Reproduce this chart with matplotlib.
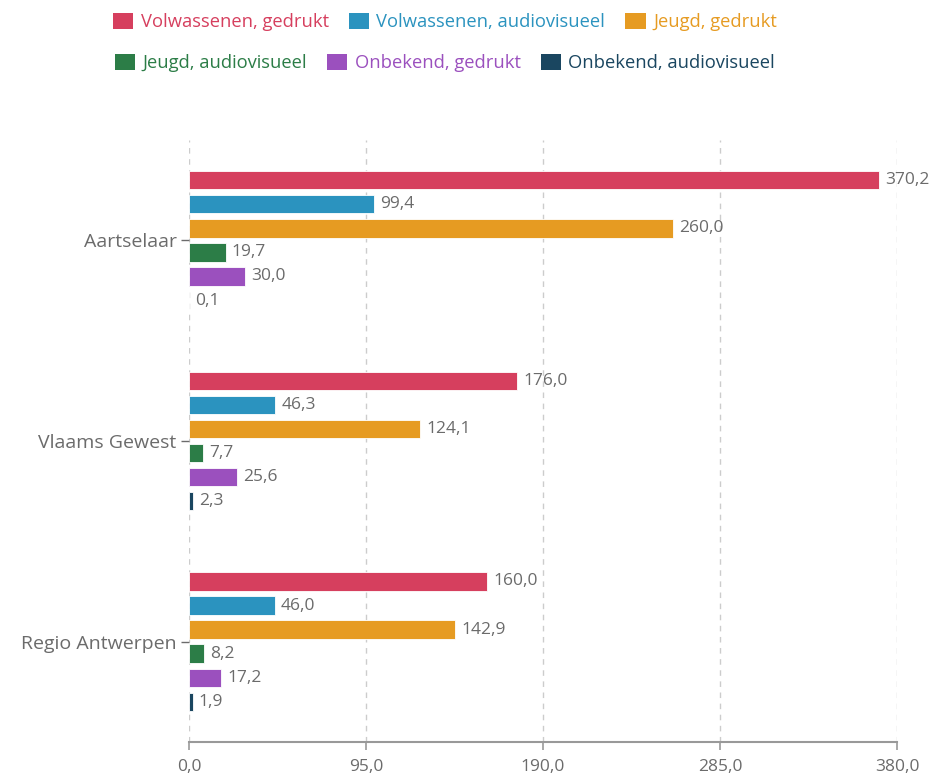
import matplotlib
matplotlib.use("Agg")
import matplotlib.pyplot as plt
from matplotlib.patches import Patch

plt.rcParams['font.family'] = ['Open Sans', 'DejaVu Sans']

categories = ["Aartselaar", "Vlaams Gewest", "Regio Antwerpen"]
series = ["Volwassenen, gedrukt", "Volwassenen, audiovisueel", "Jeugd, gedrukt",
          "Jeugd, audiovisueel", "Onbekend, gedrukt", "Onbekend, audiovisueel"]
values = [
    [370.2, 176.0, 160.0],
    [99.4, 46.3, 46.0],
    [260.0, 124.1, 142.9],
    [19.7, 7.7, 8.2],
    [30.0, 25.6, 17.2],
    [0.1, 2.3, 1.9],
]
colors = ["#D63F5E", "#2B93BF", "#E69B22", "#2C7D47", "#9B50BE", "#1A4660"]
xticks = [0, 95, 190, 285, 380]

gray = "#6b6b6b"
fig = plt.figure(figsize=(9.34, 7.73), dpi=100)
ax = fig.add_axes([189/934, 1-742/773, (897-189)/934, (742-140)/773])

step = 0.12
h = 0.092
for i, (s, vals, c) in enumerate(zip(series, values, colors)):
    ys = [g - 0.3 + i*step for g in range(len(categories))]
    ax.barh(ys, vals, height=h, color=c, edgecolor="white", linewidth=0.6, zorder=3)
    for y, v in zip(ys, vals):
        ax.text(v + 3.3, y, f"{v:.1f}".replace(".", ","), va="center", ha="left",
                fontsize=12.5, color=gray, zorder=4)

ax.set_ylim(2.5, -0.5)
ax.set_xlim(0, 380)
ax.set_yticks(range(len(categories)))
ax.set_yticklabels(categories, fontsize=14, color=gray)
ax.set_xticks(xticks)
ax.set_xticklabels([f"{t:.1f}".replace(".", ",") for t in xticks], fontsize=12.5, color=gray)
ax.tick_params(axis="y", length=6, color=gray, width=1, pad=3)
ax.tick_params(axis="x", length=6, color="#999999", width=1.2, pad=6)
for sp in ["top", "right", "left"]:
    ax.spines[sp].set_visible(False)
ax.spines["bottom"].set_color("#999999")
ax.spines["bottom"].set_linewidth(1.5)
ax.grid(axis="x", linestyle=(0, (4, 4)), color="#cccccc", linewidth=1, zorder=0)
ax.set_axisbelow(True)

handles = [Patch(facecolor=c, edgecolor="none") for c in colors]
leg1 = fig.legend(handles[:3], series[:3], loc="center", bbox_to_anchor=(445/934, 1-22/773),
                  ncol=3, frameon=False, fontsize=13.2, handlelength=1.1, handleheight=1.0,
                  columnspacing=1.1, handletextpad=0.4)
for t, c in zip(leg1.get_texts(), colors[:3]):
    t.set_color(c)
leg2 = fig.legend(handles[3:], series[3:], loc="center", bbox_to_anchor=(445/934, 1-63/773),
                  ncol=3, frameon=False, fontsize=13.2, handlelength=1.1, handleheight=1.0,
                  columnspacing=1.1, handletextpad=0.4)
for t, c in zip(leg2.get_texts(), colors[3:]):
    t.set_color(c)

fig.savefig("out.png", dpi=100)
